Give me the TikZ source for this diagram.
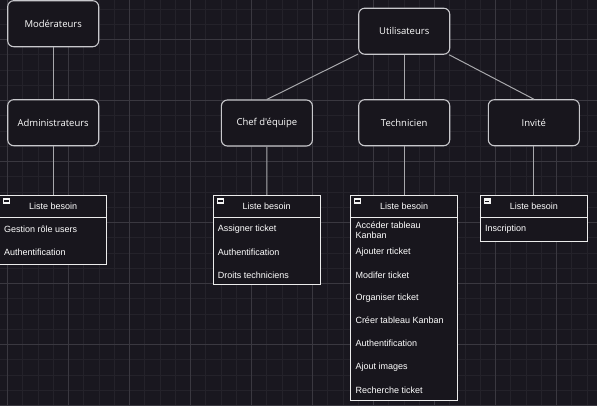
\documentclass[tikz,border=0pt]{standalone}
\usepackage{fontspec}
\setmainfont{Liberation Sans}
\newfontfamily\titlefont{Open Sans}
\definecolor{bgc}{HTML}{19171F}
\definecolor{minorc}{HTML}{24222A}
\definecolor{majorc}{HTML}{3A3840}
\definecolor{boxc}{HTML}{18161D}
\definecolor{strokec}{HTML}{C8C8CC}
\definecolor{linec}{HTML}{A8A8AC}
\tikzset{
  rolebox/.style={draw=strokec, fill=boxc, line width=1.1pt, rounded corners=6pt,
    minimum width=91pt, minimum height=46pt, inner sep=0pt,
    text=white, font=\titlefont\fontsize{9.5}{11}\selectfont},
  listframe/.style={draw=white!85!gray, fill=boxc, line width=0.9pt, inner sep=0pt},
  listhead/.style={text=white, font=\fontsize{9}{10}\selectfont, inner sep=0pt},
  listitem/.style={anchor=west, text=white, font=\fontsize{9}{10.5}\selectfont, inner sep=0pt, align=left},
  conn/.style={draw=linec, line width=1pt},
  minusicon/.style={fill=white!92!gray, minimum width=7pt, minimum height=6pt, inner sep=0pt},
  minorgrid/.style={draw=minorc, line width=0.6pt},
  majorgrid/.style={draw=majorc, line width=0.8pt}
}
\begin{document}
\begin{tikzpicture}[x=1pt,y=-1pt]
\fill[bgc] (0,0) rectangle (597,405);
\useasboundingbox (0,0) rectangle (597,405);
% grid
\foreach \i in {0,...,40} {\draw[minorgrid] ({-7.95+15.25*\i},0) -- ++(0,405);}
\foreach \i in {0,...,27} {\draw[minorgrid] (0,{8.8+15.25*\i}) -- ++(597,0);}
\foreach \i in {0,...,10} {\draw[majorgrid] ({7.3+61*\i},0) -- ++(0,405);}
\foreach \i in {0,...,6} {\draw[majorgrid] (0,{39.3+61*\i}) -- ++(597,0);}

% role boxes
\node[rolebox] (mod) at (53.2,23.7) {Modérateurs};
\node[rolebox] (adm) at (53.2,122.7) {Administrateurs};
\node[rolebox] (uti) at (404.2,31.2) {Utilisateurs};
\node[rolebox] (chef) at (266.9,123) {Chef d'équipe};
\node[rolebox] (tech) at (404.2,122.7) {Technicien};
\node[rolebox] (inv) at (533.8,122.7) {Invité};

% lists
\node[listframe, minimum width=107pt, minimum height=69pt] (ladm) at (53.2,229.7) {};
\node[listframe, minimum width=106.7pt, minimum height=89pt] (lchef) at (266.7,239.8) {};
\node[listframe, minimum width=107pt, minimum height=205.4pt] (ltech) at (404.2,298) {};
\node[listframe, minimum width=107pt, minimum height=45.7pt] (linv) at (533.8,218.2) {};

\foreach \l in {ladm,lchef,ltech,linv} {
  \draw[draw=white!85!gray, line width=0.9pt] ([yshift=-23pt]\l.north west) -- ([yshift=-23pt]\l.north east);
  \node[minusicon, anchor=north west] (\l icon) at ([xshift=3.5pt,yshift=-3pt]\l.north west) {};
  \draw[boxc, line width=1.2pt] ([xshift=1.3pt]\l icon.west) -- ([xshift=-1.3pt]\l icon.east);
}
\node[listhead] (hadm) at ([yshift=-11.5pt]ladm.north) {Liste besoin};
\node[listhead] (hchef) at ([yshift=-11.5pt]lchef.north) {Liste besoin};
\node[listhead] (htech) at ([yshift=-11.5pt]ltech.north) {Liste besoin};
\node[listhead] (hinv) at ([yshift=-11.5pt]linv.north) {Liste besoin};

% admin items
\node[listitem] (a1) at (4,229.3) {Gestion rôle users};
\node[listitem] (a2) at (4,252.3) {Authentification};
% chef items
\node[listitem] (c1) at (217.7,229.3) {Assigner ticket};
\node[listitem] (c2) at (217.7,252.3) {Authentification};
\node[listitem] (c3) at (217.7,275) {Droits techniciens};
% tech items
\node[listitem] (t1) at (355.3,230.2) {Accéder tableau\\Kanban};
\node[listitem] (t2) at (355.3,252) {Ajouter rticket};
\node[listitem] (t3) at (355.3,275) {Modifer ticket};
\node[listitem] (t4) at (355.3,297.7) {Organiser ticket};
\node[listitem] (t5) at (355.3,320.7) {Créer tableau Kanban};
\node[listitem] (t6) at (355.3,343.7) {Authentification};
\node[listitem] (t7) at (355.3,366.7) {Ajout images};
\node[listitem] (t8) at (355.3,390) {Recherche ticket};
% invite items
\node[listitem] (i1) at (485,229.3) {Inscription};

% connectors
\draw[conn] (mod) -- (adm);
\draw[conn] (adm) -- (ladm);
\draw[conn] (uti) -- (chef.north);
\draw[conn] (uti) -- (tech);
\draw[conn] (uti) -- (inv.north);
\draw[conn] (chef) -- (lchef);
\draw[conn] (tech) -- (ltech);
\draw[conn] (inv) -- (linv);
\end{tikzpicture}
\end{document}
